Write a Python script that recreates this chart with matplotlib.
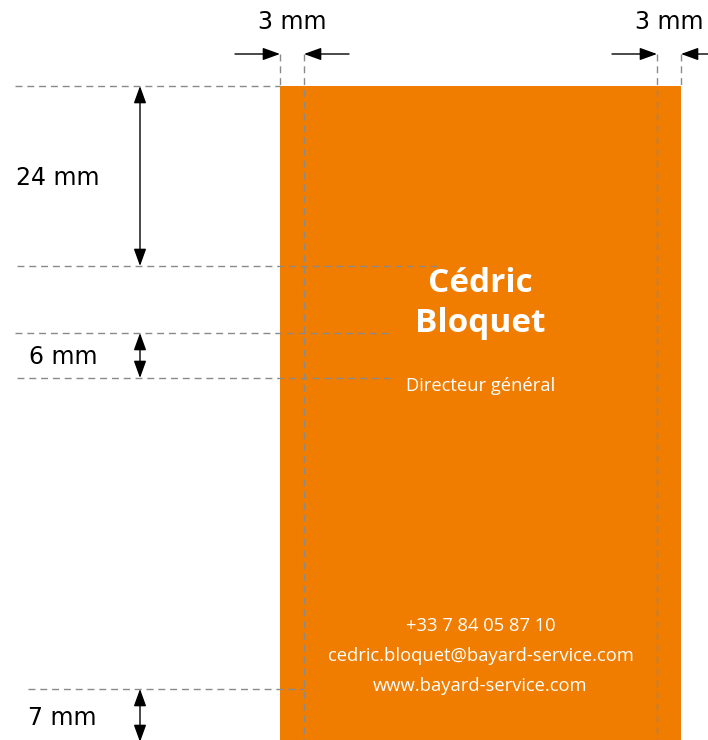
#
# Business card layout spec with bleed / margin dimensions
#
import matplotlib.pyplot as plt

W, H = 708, 740               # canvas size in pixels
card_x = [280, 681]            # card edges incl. bleed (left, right)
card_top = 86
safe_x = [304, 657]            # trim lines (3 mm inside bleed)
card_color = '#F07D00'
guide_color = '#8a8a8a'

# horizontal guide lines: y, x start, x end
guide_y = [86, 266, 333, 378, 689]
guide_x0 = [15, 17, 15, 17, 28]
guide_x1 = [280, 438, 392, 393, 304]

# vertical dimension arrows: label, y top, y bottom, label y
dim_labels = ['24 mm', '6 mm', '7 mm']
dim_top = [86, 333, 689]
dim_bot = [266, 378, 742]
dim_text_x = [16, 29, 28]
dim_text_y = [178, 357, 718]

name_lines = ['Cédric', 'Bloquet']
title = 'Directeur général'
contact = ['+33 7 84 05 87 10', 'cedric.bloquet@bayard-service.com',
           'www.bayard-service.com']

fig = plt.figure(figsize=(W/100, H/100), dpi=100)
ax = fig.add_axes([0, 0, 1, 1])
ax.set_xlim(0, W)
ax.set_ylim(H, 0)
ax.axis('off')

# card
ax.add_patch(plt.Rectangle((card_x[0], card_top), card_x[1]-card_x[0], H-card_top,
                           color=card_color, lw=0, zorder=1))

dash = dict(color=guide_color, lw=1.0, dashes=(5, 3.5), zorder=2)
# vertical guides
ax.plot([card_x[0], card_x[0]], [54, card_top], **dash)
ax.plot([card_x[1], card_x[1]], [54, card_top], **dash)
ax.plot([safe_x[0], safe_x[0]], [54, H], **dash)
ax.plot([safe_x[1], safe_x[1]], [54, H], **dash)
# horizontal guides
for y, x0, x1 in zip(guide_y, guide_x0, guide_x1):
    ax.plot([x0, x1], [y, y], **dash)

arr1 = dict(arrowstyle='-|>,head_length=1.05,head_width=0.38', color='black',
            lw=1.0, shrinkA=0, shrinkB=0, mutation_scale=10)
arr2 = dict(arr1, arrowstyle='<|-|>,head_length=1.05,head_width=0.38')

# 3 mm bleed arrows
for xl, xr in [(card_x[0], safe_x[0]), (safe_x[1], card_x[1])]:
    ax.annotate('', xy=(xl, 54), xytext=(xl-45, 54), arrowprops=arr1, zorder=3)
    ax.annotate('', xy=(xr, 54), xytext=(xr+45, 54), arrowprops=arr1, zorder=3)
    ax.text((xl+xr)/2, 22, '3 mm', ha='center', va='center', fontsize=17,
            color='black')

# vertical dimensions
for lab, y0, y1, tx, ty in zip(dim_labels, dim_top, dim_bot, dim_text_x, dim_text_y):
    ax.annotate('', xy=(140, y0), xytext=(140, y1), arrowprops=arr2, zorder=3)
    ax.text(tx, ty, lab, ha='left', va='center', fontsize=17, color='black')

# card text
cx = (card_x[0] + card_x[1]) / 2
for i, s in enumerate(name_lines):
    ax.text(cx, 283 + 40*i, s, ha='center', va='center', fontsize=24,
            fontweight='bold', family='Open Sans', color='white', zorder=4)
ax.text(cx, 386, title, ha='center', va='center', fontsize=13.2,
        family='Open Sans', color='white', zorder=4)
for i, s in enumerate(contact):
    ax.text(cx, 626 + 30*i, s, ha='center', va='center', fontsize=13.2,
            family='Open Sans', color='white', zorder=4)

fig.savefig('out.png', dpi=100)
